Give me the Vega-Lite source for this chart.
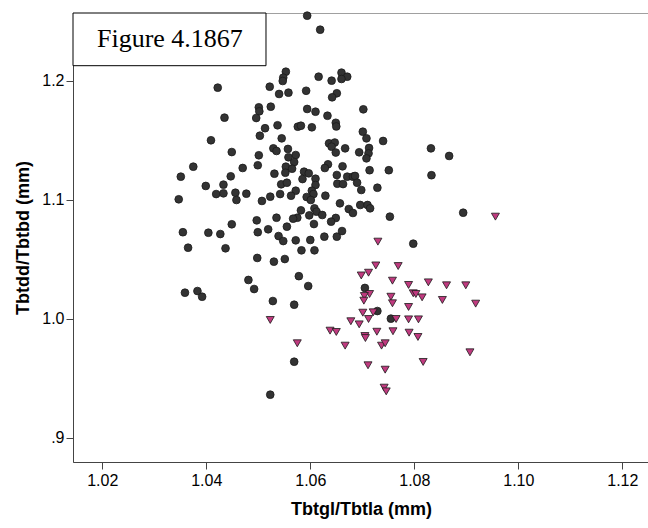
{
  "$schema": "https://vega.github.io/schema/vega-lite/v6.json",
  "width": 576,
  "height": 449,
  "autosize": {"type": "none"},
  "padding": {"left": 73, "top": 13, "right": 0, "bottom": 66},
  "background": "white",
  "config": {
    "view": {"stroke": "#a0a0a0", "strokeWidth": 1},
    "axis": {
      "grid": false,
      "domainColor": "#444444",
      "domainWidth": 1,
      "tickColor": "#444444",
      "tickSize": 7,
      "labelFont": "Liberation Sans",
      "labelFontSize": 16,
      "labelColor": "#000000",
      "titleFont": "Liberation Sans",
      "titleFontSize": 18,
      "titleFontWeight": "bold",
      "titleColor": "#000000"
    }
  },
  "layer": [
    {
      "data": {
        "values": [
          {"x": 1.0594, "y": 1.2549, "g": "A"}, {"x": 1.0619, "y": 1.2431, "g": "A"}, {"x": 1.0553, "y": 1.2078, "g": "A"}, {"x": 1.0548, "y": 1.2028, "g": "A"},
          {"x": 1.0547, "y": 1.2, "g": "A"}, {"x": 1.0522, "y": 1.1952, "g": "A"}, {"x": 1.0422, "y": 1.1944, "g": "A"}, {"x": 1.0616, "y": 1.2036, "g": "A"},
          {"x": 1.0641, "y": 1.2003, "g": "A"}, {"x": 1.066, "y": 1.207, "g": "A"}, {"x": 1.0671, "y": 1.2036, "g": "A"}, {"x": 1.066, "y": 1.2017, "g": "A"},
          {"x": 1.054, "y": 1.1891, "g": "A"}, {"x": 1.0558, "y": 1.1902, "g": "A"}, {"x": 1.0592, "y": 1.1918, "g": "A"}, {"x": 1.0651, "y": 1.1897, "g": "A"},
          {"x": 1.0642, "y": 1.1863, "g": "A"}, {"x": 1.0524, "y": 1.1784, "g": "A"}, {"x": 1.0501, "y": 1.1779, "g": "A"}, {"x": 1.0502, "y": 1.1745, "g": "A"},
          {"x": 1.0496, "y": 1.1689, "g": "A"}, {"x": 1.0594, "y": 1.1765, "g": "A"}, {"x": 1.061, "y": 1.1742, "g": "A"}, {"x": 1.0633, "y": 1.1708, "g": "A"},
          {"x": 1.0649, "y": 1.1649, "g": "A"}, {"x": 1.065, "y": 1.1618, "g": "A"}, {"x": 1.0435, "y": 1.1692, "g": "A"}, {"x": 1.0537, "y": 1.1628, "g": "A"},
          {"x": 1.0513, "y": 1.1603, "g": "A"}, {"x": 1.0576, "y": 1.1616, "g": "A"}, {"x": 1.0582, "y": 1.1624, "g": "A"}, {"x": 1.0603, "y": 1.1611, "g": "A"},
          {"x": 1.0503, "y": 1.154, "g": "A"}, {"x": 1.0545, "y": 1.1518, "g": "A"}, {"x": 1.0409, "y": 1.1502, "g": "A"}, {"x": 1.0636, "y": 1.1476, "g": "A"},
          {"x": 1.0647, "y": 1.1483, "g": "A"}, {"x": 1.0641, "y": 1.1448, "g": "A"}, {"x": 1.0649, "y": 1.1399, "g": "A"}, {"x": 1.0702, "y": 1.1762, "g": "A"},
          {"x": 1.0701, "y": 1.1574, "g": "A"}, {"x": 1.0708, "y": 1.1518, "g": "A"}, {"x": 1.074, "y": 1.1496, "g": "A"}, {"x": 1.0667, "y": 1.1434, "g": "A"},
          {"x": 1.0713, "y": 1.1437, "g": "A"}, {"x": 1.0832, "y": 1.1434, "g": "A"}, {"x": 1.0449, "y": 1.1403, "g": "A"}, {"x": 1.0501, "y": 1.1376, "g": "A"},
          {"x": 1.0529, "y": 1.1434, "g": "A"}, {"x": 1.0535, "y": 1.1412, "g": "A"}, {"x": 1.0557, "y": 1.1429, "g": "A"}, {"x": 1.0558, "y": 1.1359, "g": "A"},
          {"x": 1.0572, "y": 1.1378, "g": "A"}, {"x": 1.0569, "y": 1.1319, "g": "A"}, {"x": 1.0553, "y": 1.128, "g": "A"}, {"x": 1.0552, "y": 1.1229, "g": "A"},
          {"x": 1.0565, "y": 1.1263, "g": "A"}, {"x": 1.0499, "y": 1.1292, "g": "A"}, {"x": 1.047, "y": 1.1269, "g": "A"}, {"x": 1.0375, "y": 1.128, "g": "A"},
          {"x": 1.0351, "y": 1.1196, "g": "A"}, {"x": 1.0447, "y": 1.1199, "g": "A"}, {"x": 1.0531, "y": 1.1221, "g": "A"}, {"x": 1.0588, "y": 1.1238, "g": "A"},
          {"x": 1.0597, "y": 1.1224, "g": "A"}, {"x": 1.0634, "y": 1.13, "g": "A"}, {"x": 1.0628, "y": 1.1269, "g": "A"}, {"x": 1.0651, "y": 1.121, "g": "A"},
          {"x": 1.0585, "y": 1.1176, "g": "A"}, {"x": 1.061, "y": 1.1179, "g": "A"}, {"x": 1.061, "y": 1.1126, "g": "A"}, {"x": 1.0399, "y": 1.1118, "g": "A"},
          {"x": 1.0433, "y": 1.1129, "g": "A"}, {"x": 1.0544, "y": 1.1132, "g": "A"}, {"x": 1.0555, "y": 1.1145, "g": "A"}, {"x": 1.0419, "y": 1.105, "g": "A"},
          {"x": 1.0433, "y": 1.1056, "g": "A"}, {"x": 1.0456, "y": 1.1061, "g": "A"}, {"x": 1.0458, "y": 1.1, "g": "A"}, {"x": 1.0477, "y": 1.1053, "g": "A"},
          {"x": 1.0542, "y": 1.105, "g": "A"}, {"x": 1.0572, "y": 1.1078, "g": "A"}, {"x": 1.0563, "y": 1.1036, "g": "A"}, {"x": 1.0603, "y": 1.1078, "g": "A"},
          {"x": 1.0606, "y": 1.105, "g": "A"}, {"x": 1.0593, "y": 1.1025, "g": "A"}, {"x": 1.0601, "y": 1.1, "g": "A"}, {"x": 1.0629, "y": 1.1036, "g": "A"},
          {"x": 1.0657, "y": 1.0972, "g": "A"}, {"x": 1.0347, "y": 1.1006, "g": "A"}, {"x": 1.0523, "y": 1.1028, "g": "A"}, {"x": 1.0507, "y": 1.0992, "g": "A"},
          {"x": 1.0582, "y": 1.0913, "g": "A"}, {"x": 1.0575, "y": 1.0851, "g": "A"}, {"x": 1.0567, "y": 1.0843, "g": "A"}, {"x": 1.0608, "y": 1.093, "g": "A"},
          {"x": 1.0612, "y": 1.0902, "g": "A"}, {"x": 1.0623, "y": 1.0874, "g": "A"}, {"x": 1.0598, "y": 1.0871, "g": "A"}, {"x": 1.0535, "y": 1.0851, "g": "A"},
          {"x": 1.0497, "y": 1.0829, "g": "A"}, {"x": 1.0649, "y": 1.0849, "g": "A"}, {"x": 1.064, "y": 1.0818, "g": "A"}, {"x": 1.0449, "y": 1.0796, "g": "A"},
          {"x": 1.0607, "y": 1.0798, "g": "A"}, {"x": 1.0555, "y": 1.0776, "g": "A"}, {"x": 1.0519, "y": 1.0754, "g": "A"}, {"x": 1.0499, "y": 1.0729, "g": "A"},
          {"x": 1.0355, "y": 1.0729, "g": "A"}, {"x": 1.0404, "y": 1.0725, "g": "A"}, {"x": 1.0427, "y": 1.0714, "g": "A"}, {"x": 1.0539, "y": 1.0697, "g": "A"},
          {"x": 1.0548, "y": 1.0655, "g": "A"}, {"x": 1.0572, "y": 1.0661, "g": "A"}, {"x": 1.06, "y": 1.0664, "g": "A"}, {"x": 1.0627, "y": 1.0692, "g": "A"},
          {"x": 1.0651, "y": 1.0692, "g": "A"}, {"x": 1.0365, "y": 1.0599, "g": "A"}, {"x": 1.0437, "y": 1.0594, "g": "A"}, {"x": 1.0583, "y": 1.0577, "g": "A"},
          {"x": 1.0608, "y": 1.0577, "g": "A"}, {"x": 1.0498, "y": 1.0513, "g": "A"}, {"x": 1.053, "y": 1.0482, "g": "A"}, {"x": 1.0551, "y": 1.0504, "g": "A"},
          {"x": 1.0481, "y": 1.0328, "g": "A"}, {"x": 1.0578, "y": 1.036, "g": "A"}, {"x": 1.0694, "y": 1.1401, "g": "A"}, {"x": 1.0712, "y": 1.1392, "g": "A"},
          {"x": 1.0708, "y": 1.135, "g": "A"}, {"x": 1.0867, "y": 1.137, "g": "A"}, {"x": 1.0662, "y": 1.1283, "g": "A"}, {"x": 1.0714, "y": 1.125, "g": "A"},
          {"x": 1.0751, "y": 1.125, "g": "A"}, {"x": 1.0833, "y": 1.1208, "g": "A"}, {"x": 1.0671, "y": 1.1196, "g": "A"}, {"x": 1.0682, "y": 1.1196, "g": "A"},
          {"x": 1.0686, "y": 1.1202, "g": "A"}, {"x": 1.0652, "y": 1.1137, "g": "A"}, {"x": 1.0663, "y": 1.1134, "g": "A"}, {"x": 1.069, "y": 1.1145, "g": "A"},
          {"x": 1.0698, "y": 1.1084, "g": "A"}, {"x": 1.0729, "y": 1.1103, "g": "A"}, {"x": 1.0674, "y": 1.0924, "g": "A"}, {"x": 1.0682, "y": 1.0891, "g": "A"},
          {"x": 1.0696, "y": 1.0958, "g": "A"}, {"x": 1.071, "y": 1.0958, "g": "A"}, {"x": 1.0715, "y": 1.093, "g": "A"}, {"x": 1.0753, "y": 1.086, "g": "A"},
          {"x": 1.0894, "y": 1.0893, "g": "A"}, {"x": 1.0661, "y": 1.0739, "g": "A"}, {"x": 1.0798, "y": 1.0633, "g": "A"}, {"x": 1.0359, "y": 1.0221, "g": "A"},
          {"x": 1.0383, "y": 1.0235, "g": "A"}, {"x": 1.0392, "y": 1.0187, "g": "A"}, {"x": 1.0492, "y": 1.0252, "g": "A"}, {"x": 1.0528, "y": 1.0151, "g": "A"},
          {"x": 1.0596, "y": 1.0277, "g": "A"}, {"x": 1.0569, "y": 1.012, "g": "A"}, {"x": 1.0569, "y": 0.9641, "g": "A"}, {"x": 1.0523, "y": 0.9364, "g": "A"},
          {"x": 1.0705, "y": 1.0261, "g": "A"}, {"x": 1.0729, "y": 1.0067, "g": "A"}, {"x": 1.0755, "y": 1.0003, "g": "A"},
          {"x": 1.0956, "y": 1.086, "g": "B"}, {"x": 1.073, "y": 1.065, "g": "B"}, {"x": 1.0726, "y": 1.045, "g": "B"}, {"x": 1.0769, "y": 1.0445, "g": "B"},
          {"x": 1.0698, "y": 1.0366, "g": "B"}, {"x": 1.0712, "y": 1.0389, "g": "B"}, {"x": 1.0758, "y": 1.0322, "g": "B"}, {"x": 1.0789, "y": 1.0286, "g": "B"},
          {"x": 1.0827, "y": 1.0308, "g": "B"}, {"x": 1.0862, "y": 1.0283, "g": "B"}, {"x": 1.0899, "y": 1.0283, "g": "B"}, {"x": 1.0798, "y": 1.0216, "g": "B"},
          {"x": 1.0803, "y": 1.021, "g": "B"}, {"x": 1.0815, "y": 1.0182, "g": "B"}, {"x": 1.0714, "y": 1.021, "g": "B"}, {"x": 1.0704, "y": 1.0193, "g": "B"},
          {"x": 1.0703, "y": 1.0154, "g": "B"}, {"x": 1.0755, "y": 1.0187, "g": "B"}, {"x": 1.0758, "y": 1.0132, "g": "B"}, {"x": 1.0854, "y": 1.016, "g": "B"},
          {"x": 1.0918, "y": 1.0129, "g": "B"}, {"x": 1.0789, "y": 1.0101, "g": "B"}, {"x": 1.0701, "y": 1.0053, "g": "B"}, {"x": 1.0721, "y": 1.0056, "g": "B"},
          {"x": 1.0678, "y": 0.9981, "g": "B"}, {"x": 1.0694, "y": 0.9955, "g": "B"}, {"x": 1.0712, "y": 1.0, "g": "B"}, {"x": 1.0765, "y": 1.0, "g": "B"},
          {"x": 1.0789, "y": 0.9997, "g": "B"}, {"x": 1.0808, "y": 0.9997, "g": "B"}, {"x": 1.0638, "y": 0.9902, "g": "B"}, {"x": 1.065, "y": 0.9891, "g": "B"},
          {"x": 1.0705, "y": 0.9857, "g": "B"}, {"x": 1.0706, "y": 0.984, "g": "B"}, {"x": 1.0728, "y": 0.9893, "g": "B"}, {"x": 1.0759, "y": 0.9897, "g": "B"},
          {"x": 1.079, "y": 0.9885, "g": "B"}, {"x": 1.0807, "y": 0.9849, "g": "B"}, {"x": 1.0667, "y": 0.9776, "g": "B"}, {"x": 1.0737, "y": 0.9776, "g": "B"},
          {"x": 1.0744, "y": 0.9796, "g": "B"}, {"x": 1.0907, "y": 0.972, "g": "B"}, {"x": 1.0711, "y": 0.9611, "g": "B"}, {"x": 1.0744, "y": 0.9574, "g": "B"},
          {"x": 1.0817, "y": 0.9639, "g": "B"}, {"x": 1.0742, "y": 0.9423, "g": "B"}, {"x": 1.0746, "y": 0.9392, "g": "B"}, {"x": 1.0523, "y": 0.9992, "g": "B"},
          {"x": 1.0575, "y": 0.9796, "g": "B"}
        ]
      },
      "mark": {"type": "point", "filled": true, "opacity": 1, "stroke": "#1a1a1a", "strokeWidth": 0.8},
      "encoding": {
        "x": {
          "field": "x", "type": "quantitative",
          "scale": {"domain": [1.01437, 1.12513], "nice": false, "zero": false},
          "axis": {"values": [1.02, 1.04, 1.06, 1.08, 1.1, 1.12], "format": ".2f", "labelPadding": 3, "title": "Tbtgl/Tbtla (mm)", "titlePadding": 12}
        },
        "y": {
          "field": "y", "type": "quantitative",
          "scale": {"domain": [0.87983, 1.25714], "nice": false, "zero": false},
          "axis": {"values": [0.9, 1.0, 1.1, 1.2], "labelExpr": "datum.value < 0.95 ? '.9' : format(datum.value, '.1f')", "labelPadding": 2, "title": "Tbtdd/Tbtbd (mm)", "titlePadding": 9}
        },
        "shape": {"field": "g", "type": "nominal", "scale": {"domain": ["A", "B"], "range": ["circle", "triangle-down"]}, "legend": null},
        "fill": {"field": "g", "type": "nominal", "scale": {"domain": ["A", "B"], "range": ["#333333", "#c03a7f"]}, "legend": null},
        "size": {"field": "g", "type": "nominal", "scale": {"domain": ["A", "B"], "range": [60, 64]}, "legend": null}
      }
    },
    {
      "data": {"values": [{}]},
      "mark": {"type": "rect", "fill": "white", "stroke": "black", "strokeWidth": 1},
      "encoding": {
        "x": {"datum": 1.01437, "type": "quantitative"},
        "x2": {"datum": 1.05148},
        "y": {"datum": 1.25714, "type": "quantitative"},
        "y2": {"datum": 1.21286}
      }
    },
    {
      "data": {"values": [{}]},
      "mark": {"type": "text", "font": "Liberation Serif", "fontSize": 26, "baseline": "alphabetic", "align": "center", "color": "black"},
      "encoding": {
        "x": {"datum": 1.033, "type": "quantitative"},
        "y": {"datum": 1.2284, "type": "quantitative"},
        "text": {"value": "Figure 4.1867"}
      }
    }
  ]
}
